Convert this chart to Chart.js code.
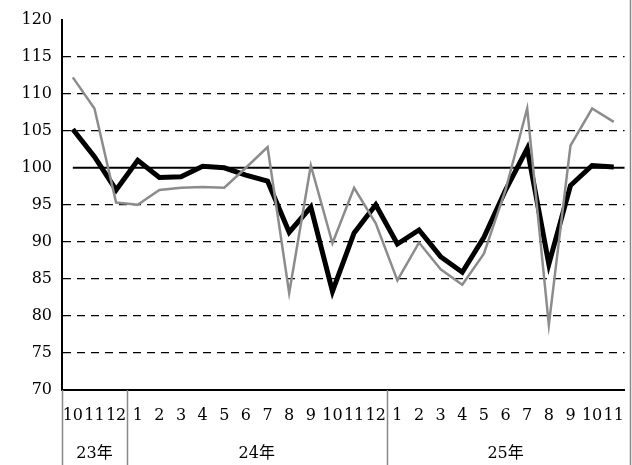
<!DOCTYPE html>
<html>
<head>
<meta charset="utf-8">
<script src="https://cdn.jsdelivr.net/npm/chart.js@4"></script>
<style>
body { margin: 0; background: #fff; }
#wrap { width: 632px; height: 465px; }
</style>
</head>
<body>
<div id="wrap"><canvas id="c"></canvas></div>
<script>
var months = ['10','11','12','1','2','3','4','5','6','7','8','9','10','11','12','1','2','3','4','5','6','7','8','9','10','11']
var years = [['23年', 0, 2], ['24年', 3, 14], ['25年', 15, 25]]
var seriesBlack = [105.2, 101.5, 97, 101, 98.7, 98.8, 100.2, 100, 99, 98.2, 91.3, 94.7, 83.3, 91.2, 95, 89.7, 91.6, 88, 85.9, 90.6, 97, 102.6, 87, 97.6, 100.3, 100.1]
var seriesGray = [112.2, 108, 95.3, 95, 97, 97.3, 97.4, 97.3, 100, 102.8, 83.1, 100.3, 89.8, 97.3, 92.5, 84.8, 89.9, 86.3, 84.2, 88.4, 97, 108, 78.8, 103, 108, 106.2]
var yTicks = [70, 75, 80, 85, 90, 95, 100, 105, 110, 115, 120]

var fontFam = '"DejaVu Serif", "Noto Sans CJK JP", serif'

// 100の線と年の区切り
var extras = {
    id: 'extras',
    beforeDatasetsDraw: function(chart) {
        var ctx = chart.ctx, x = chart.scales.x, y = chart.scales.y, a = chart.chartArea
        ctx.save()
        ctx.strokeStyle = '#000'
        ctx.lineWidth = 2
        ctx.beginPath()
        var y100 = y.getPixelForValue(100)
        ctx.moveTo(x.getPixelForValue(0), y100)
        ctx.lineTo(a.right, y100)
        ctx.stroke()
        ctx.restore()
    },
    afterDraw: function(chart) {
        var ctx = chart.ctx, x = chart.scales.x, a = chart.chartArea
        var step = x.getPixelForValue(1) - x.getPixelForValue(0)
        ctx.save()
        ctx.strokeStyle = '#888'
        ctx.lineWidth = 1.5
        ctx.fillStyle = '#000'
        ctx.font = '16px ' + fontFam
        ctx.textAlign = 'center'
        ctx.textBaseline = 'middle'
        for (let yr of years) {
            var l = x.getPixelForValue(yr[1]) - step / 2
            var r = x.getPixelForValue(yr[2]) + step / 2
            ctx.beginPath()
            ctx.moveTo(Math.round(l) + 0.5, a.bottom)
            ctx.lineTo(Math.round(l) + 0.5, chart.height)
            ctx.stroke()
            ctx.fillText(yr[0], (l + r) / 2, a.bottom + 64)
        }
        ctx.beginPath()
        ctx.moveTo(chart.width - 1.5, 0)
        ctx.lineTo(chart.width - 1.5, chart.height)
        ctx.stroke()
        ctx.restore()
    }
}

new Chart(document.getElementById('c'), {
    type: 'line',
    data: {
        labels: months,
        datasets: [{
            data: seriesGray,
            borderColor: '#8c8c8c',
            borderWidth: 2.5,
            pointRadius: 0,
            tension: 0
        }, {
            data: seriesBlack,
            borderColor: '#000',
            borderWidth: 5,
            pointRadius: 0,
            tension: 0
        }]
    },
    options: {
        responsive: true,
        maintainAspectRatio: false,
        animation: false,
        layout: { padding: { top: 18, right: 4, left: 0, bottom: 0 } },
        plugins: { legend: { display: false }, tooltip: { enabled: false } },
        scales: {
            x: {
                offset: true,
                grid: { display: false },
                border: { color: '#000', width: 2 },
                ticks: {
                    autoSkip: false, maxRotation: 0, minRotation: 0, padding: 8,
                    color: '#000', font: { family: fontFam, size: 16 }
                },
                afterFit: function(s) { s.height = 75 }
            },
            y: {
                min: 70, max: 120,
                afterBuildTicks: function(s) { s.ticks = yTicks.map(function(v) { return { value: v } }) },
                grid: {
                    color: function(c) { return (c.tick.value == 100 || c.tick.value == 120 || c.tick.value == 70) ? 'rgba(0,0,0,0)' : '#000' },
                    lineWidth: 1.2,
                    drawTicks: false
                },
                border: { color: '#000', width: 2, dash: [8, 6] },
                ticks: {
                    padding: 10, color: '#000',
                    font: { family: fontFam, size: 16 }
                },
                afterFit: function(s) { s.width = 62 }
            }
        }
    },
    plugins: [extras]
})
</script>
</body>
</html>
